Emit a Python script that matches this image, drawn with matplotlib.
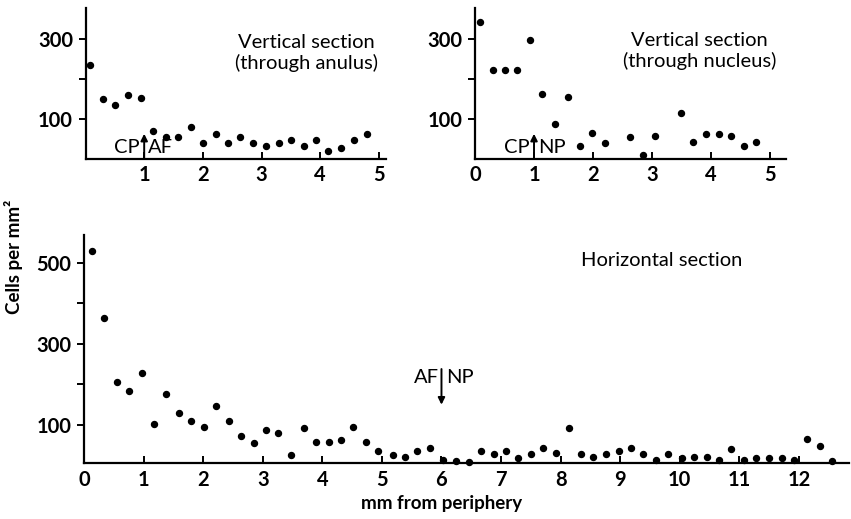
import matplotlib.pyplot as plt

plt.rcParams['font.family'] = ['Lato', 'DejaVu Sans']

# Vertical section through anulus
anulus_x = [0.08, 0.30, 0.51, 0.72, 0.94, 1.15, 1.37, 1.58, 1.80, 2.01, 2.22, 2.43,
            2.64, 2.86, 3.08, 3.29, 3.50, 3.72, 3.93, 4.14, 4.36, 4.57, 4.79]
anulus_y = [235, 150, 135, 159, 151, 68, 54, 55, 78, 39, 62, 39,
            54, 39, 32, 39, 46, 32, 46, 18, 26, 47, 62]

# Vertical section through nucleus
nucleus_x = [0.09, 0.31, 0.51, 0.72, 0.93, 1.14, 1.35, 1.57, 1.78, 1.99, 2.21,
             2.62, 2.84, 3.05, 3.49, 3.69, 3.91, 4.13, 4.34, 4.55, 4.77]
nucleus_y = [343, 221, 221, 221, 298, 161, 86, 153, 32, 63, 40,
             55, 10, 56, 115, 41, 62, 62, 56, 32, 41]

# Horizontal section
horiz_x = [0.13, 0.34, 0.55, 0.76, 0.97, 1.18, 1.38, 1.59, 1.80, 2.02, 2.22, 2.43,
           2.64, 2.85, 3.06, 3.25, 3.47, 3.69, 3.89, 4.11, 4.32, 4.52, 4.73, 4.94,
           5.18, 5.38, 5.59, 5.80, 6.03, 6.24, 6.47, 6.66, 6.88, 7.08, 7.29, 7.50,
           7.71, 7.93, 8.14, 8.35, 8.55, 8.76, 8.98, 9.18, 9.39, 9.60, 9.81, 10.03,
           10.24, 10.45, 10.66, 10.86, 11.07, 11.28, 11.50, 11.71, 11.91, 12.14,
           12.35, 12.56]
horiz_y = [530, 365, 206, 185, 229, 102, 176, 130, 109, 94, 147, 109,
           72, 56, 87, 79, 26, 93, 58, 58, 64, 95, 58, 35,
           25, 20, 35, 42, 14, 12, 8, 35, 28, 35, 19, 28,
           43, 31, 93, 28, 20, 28, 36, 43, 28, 13, 28, 19,
           20, 20, 13, 41, 13, 19, 19, 19, 13, 65,
           48, 12]

W, H = 851, 519
fig = plt.figure(figsize=(W / 100, H / 100), dpi=100)

TXT = 14.5


def px_axes(left, right, top, bottom):
    return fig.add_axes([left / W, (H - bottom) / H, (right - left) / W, (bottom - top) / H])


def style(ax):
    for s in ['top', 'right']:
        ax.spines[s].set_visible(False)
    for s in ['left', 'bottom']:
        ax.spines[s].set_linewidth(1.6)
    ax.tick_params(axis='y', direction='out', length=5, width=1.4, labelsize=14.5, pad=4)
    ax.tick_params(axis='x', direction='in', length=5, width=1.4, labelsize=14.5, pad=5)
    for lab in ax.get_xticklabels() + ax.get_yticklabels():
        lab.set_fontweight('bold')


def marker_arrow(ax, x, y0, y1):
    ax.annotate('', xy=(x, y1), xytext=(x, y0),
                arrowprops=dict(arrowstyle='-|>', color='black', lw=1.4,
                                mutation_scale=10, shrinkA=0, shrinkB=0))


dot = dict(marker='o', ls='none', color='black', ms=4.3, clip_on=False)

# top left
ax1 = px_axes(85.5, 386, 8, 158.5)
ax1.plot(anulus_x, anulus_y, **dot)
ax1.set_xlim(0, 5.12)
ax1.set_ylim(0, 377)
ax1.set_xticks([1, 2, 3, 4, 5])
ax1.set_yticks([100, 200, 300])
ax1.set_yticklabels(['100', '', '300'])
style(ax1)
ax1.text(3.77, 264, 'Vertical section\n(through anulus)', ha='center', va='center',
         fontsize=TXT, linespacing=1.2)
marker_arrow(ax1, 1, 0, 62)
ax1.text(0.93, 28, 'CP', ha='right', va='center', fontsize=TXT)
ax1.text(1.07, 28, 'AF', ha='left', va='center', fontsize=TXT)

# top right
ax2 = px_axes(475, 786, 8, 158.5)
ax2.plot(nucleus_x, nucleus_y, **dot)
ax2.set_xlim(0, 5.27)
ax2.set_ylim(0, 377)
ax2.set_xticks([0, 1, 2, 3, 4, 5])
ax2.set_yticks([100, 200, 300])
ax2.set_yticklabels(['100', '', '300'])
style(ax2)
ax2.text(3.81, 269, 'Vertical section\n(through nucleus)', ha='center', va='center',
         fontsize=TXT, linespacing=1.2)
marker_arrow(ax2, 1, 0, 62)
ax2.text(0.93, 28, 'CP', ha='right', va='center', fontsize=TXT)
ax2.text(1.07, 28, 'NP', ha='left', va='center', fontsize=TXT)

# bottom
ax3 = px_axes(84, 849, 235, 463)
ax3.plot(horiz_x, horiz_y, **dot)
ax3.set_xlim(0, 12.84)
ax3.set_ylim(6, 569)
ax3.set_xticks(range(0, 13))
ax3.set_yticks([100, 200, 300, 400, 500])
ax3.set_yticklabels(['100', '', '300', '', '500'])
style(ax3)
ax3.text(9.7, 507, 'Horizontal section', ha='center', va='center', fontsize=TXT)
marker_arrow(ax3, 6, 238, 150)
ax3.text(5.95, 218, 'AF', ha='right', va='center', fontsize=TXT)
ax3.text(6.07, 218, 'NP', ha='left', va='center', fontsize=TXT)

fig.text(442 / W, (H - 503) / H, 'mm from periphery', ha='center', va='center',
         fontsize=13.5, fontweight='bold')
fig.text(14 / W, (H - 257) / H, 'Cells per mm²', ha='center', va='center',
         rotation=90, fontsize=13.5, fontweight='bold')

fig.savefig('out.png', dpi=100)
